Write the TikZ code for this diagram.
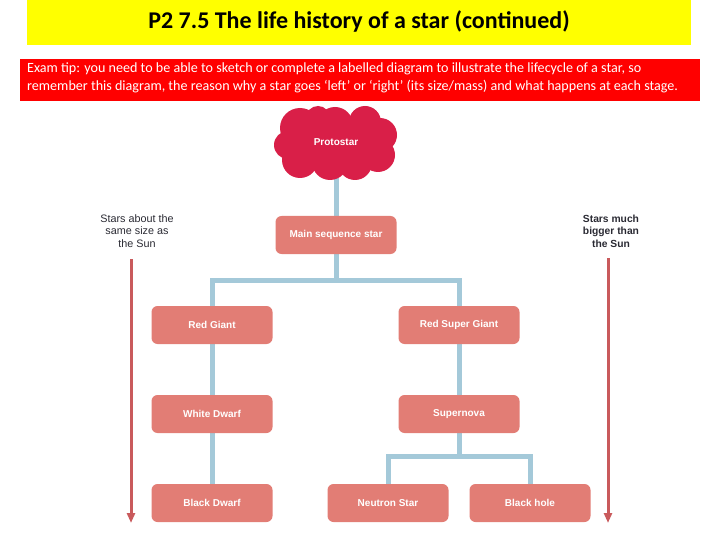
\documentclass[tikz,border=0pt]{standalone}
\usepackage{fontspec}
\setmainfont{Carlito}
\newfontfamily\arialf{Liberation Sans}
\usetikzlibrary{arrows.meta}
\pgfdeclarelayer{bg}
\pgfsetlayers{bg,main}
\definecolor{titleyellow}{HTML}{FFFF00}
\definecolor{tipred}{HTML}{FF0000}
\definecolor{cloudred}{HTML}{D91F48}
\definecolor{boxsalmon}{HTML}{E27D75}
\definecolor{linkblue}{HTML}{A4C9D9}
\definecolor{arrowred}{HTML}{C95A5C}
\definecolor{labelgray}{HTML}{2A2A33}
\tikzset{
  stage/.style={fill=boxsalmon, rounded corners=6pt, minimum width=121pt, minimum height=38pt,
    text=white, font=\arialf\bfseries\fontsize{10}{11}\selectfont, inner sep=0pt},
  link/.style={draw=linkblue, line width=5pt},
  sidearrow/.style={draw=arrowred, line width=3pt, -{Triangle[width=8pt,length=10pt]}},
  sidelabel/.style={align=center, text=labelgray, font=\arialf\fontsize{10.8}{12.5}\selectfont},
}
\begin{document}
\begin{tikzpicture}[x=1pt,y=-1pt]
\useasboundingbox (0,0) rectangle (720,540);
% title
\fill[titleyellow] (27,0) rectangle (691,45);
\node (title) at (359,21) {\fontsize{24}{26}\selectfont\bfseries P2 7.5 The life history of a star (continued)};
% exam tip
\fill[tipred] (20,59) rectangle (700,101);
\node[anchor=north west, align=left, text=white, inner sep=0pt, font=\fontsize{14.1}{18}\selectfont] (tip) at (27,63)
  {Exam tip: you need to be able to sketch or complete a labelled diagram to illustrate the lifecycle of a star, so\\
   remember this diagram, the reason why a star goes ‘left’ or ‘right’ (its size/mass) and what happens at each stage.};
% cloud
\foreach \cx/\cy/\r in {300/128/20, 335/125/18, 365/122/16, 380/135/17, 378/155/17, 355/163/17,
    330/162/18, 300/160/18, 288/145/14, 318/118/12}
  \fill[cloudred] (\cx,\cy) circle (\r);
\fill[cloudred] (290,125) rectangle (382,165);
\node[text=white, font=\arialf\bfseries\fontsize{10}{11}\selectfont, minimum height=72pt, minimum width=121pt] (proto) at (336,142) {Protostar};
% nodes
\coordinate (split1) at (336,280);
\coordinate (split2) at (459,456);
\node[stage] (ms) at (336,235) {Main sequence star};
\node[stage] (rg) at (212,325) {Red Giant};
\node[stage] (rsg) at (459,325) {Red Super Giant};
\node[stage] (wd) at (212,414) {White Dwarf};
\node[stage] (sn) at (459,414) {Supernova};
\node[stage] (bd) at (212,503) {Black Dwarf};
\node[stage] (ns) at (388,503) {Neutron Star};
\node[stage] (bh) at (530,503) {Black hole};
% links
\begin{pgfonlayer}{bg}
\draw[link] (proto) -- (ms.north);
\draw[link] (ms.south) -- (split1);
\draw[link] (rg.north) |- (split1) -| (rsg.north);
\draw[link] (rg.south) -- (wd.north);
\draw[link] (wd.south) -- (bd.north);
\draw[link] (rsg.south) -- (sn.north);
\draw[link] (sn.south) -- (split2);
\draw[link] (ns.north) |- (split2) -| (bh.north);
\end{pgfonlayer}
% side labels and arrows
\node[sidelabel] (left) at (137,231) {Stars about the\\same size as\\the Sun};
\node[sidelabel, font=\arialf\bfseries\fontsize{10.3}{12.5}\selectfont] (right) at (611,231) {Stars much\\bigger than\\the Sun};
\coordinate (lstart) at (131,259);
\coordinate (lend) at (131,523);
\coordinate (rstart) at (608,258);
\coordinate (rend) at (608,523);
\draw[sidearrow] (lstart) -- (lend);
\draw[sidearrow] (rstart) -- (rend);
\end{tikzpicture}
\end{document}
